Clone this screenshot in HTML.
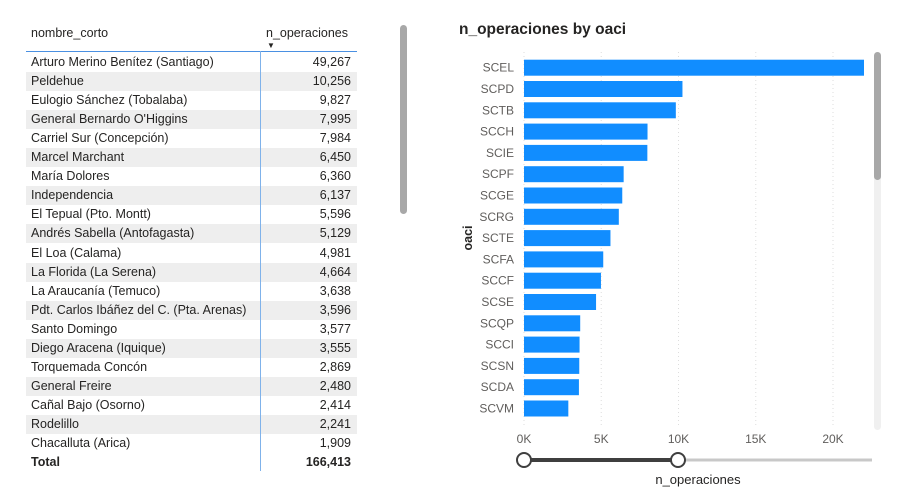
<!DOCTYPE html>
<html><head><meta charset="utf-8"><style>
body{margin:0;width:909px;height:492px;background:#fff;font-family:"Liberation Sans",sans-serif;overflow:hidden;position:relative}
.t{position:absolute;font-size:12.5px;color:#252423;white-space:nowrap}
</style></head><body>
<div id="tbl"></div>
<div style="position:absolute;left:400px;top:25px;width:7px;height:189px;background:#a8a8a8;border-radius:4px"></div>
<div class="t" style="left:459px;top:21px;font-size:15.5px;font-weight:bold;color:#252423">n_operaciones by oaci</div>
<svg id="ch" width="909" height="492" style="position:absolute;left:0;top:0"></svg>
<script>
const names=["Arturo Merino Benítez (Santiago)","Peldehue","Eulogio Sánchez (Tobalaba)","General Bernardo O'Higgins","Carriel Sur (Concepción)","Marcel Marchant","María Dolores","Independencia","El Tepual (Pto. Montt)","Andrés Sabella (Antofagasta)","El Loa (Calama)","La Florida (La Serena)","La Araucanía (Temuco)","Pdt. Carlos Ibáñez del C. (Pta. Arenas)","Santo Domingo","Diego Aracena (Iquique)","Torquemada Concón","General Freire","Cañal Bajo (Osorno)","Rodelillo","Chacalluta (Arica)"];
const tableVals=[49267,10256,9827,7995,7984,6450,6360,6137,5596,5129,4981,4664,3638,3596,3577,3555,2869,2480,2414,2241,1909];
const totalVal=166413;
const codes=["SCEL","SCPD","SCTB","SCCH","SCIE","SCPF","SCGE","SCRG","SCTE","SCFA","SCCF","SCSE","SCQP","SCCI","SCSN","SCDA","SCVM"];
const barVals=[49267,10256,9827,7995,7984,6450,6360,6137,5596,5129,4981,4664,3638,3596,3577,3555,2869];
const ticks=[0,5000,10000,15000,20000];
const tickLabels=["0K","5K","10K","15K","20K"];

const tbl=document.getElementById('tbl');
function div(st,txt,name){const d=document.createElement('div');d.className='t';d.style.cssText=st;if(txt!=null)d.textContent=txt;


tbl.appendChild(d);return d;}
div('left:31px;top:26px','nombre_corto','header-nombre-corto');
div('left:266px;top:26px','n_operaciones','header-n-operaciones');
div('left:267px;top:41px;font-size:8px','▼','sort-arrow');
div('left:26px;top:51px;width:331px;height:1px;background:#4a90e2','', 'header-line');
const fmt=v=>v.toLocaleString('en-US');
names.forEach((n,i)=>{const y=53+i*19.05;
 if(i%2==1)div(`left:26px;top:${y}px;width:331px;height:19px;background:#eeeeee`,'','row-band');
 div(`left:31px;top:${y+2}px`,n,'row-name');
 div(`left:261px;top:${y+2}px;width:90px;text-align:right`,fmt(tableVals[i]),'row-value');
});
div('left:31px;top:455px;font-weight:bold','Total','total-label');
div('left:261px;top:455px;width:90px;text-align:right;font-weight:bold',fmt(totalVal),'total-value');
div('left:260px;top:51px;width:1px;height:420px;background:#7fb2ea','','column-divider');

const svg=document.getElementById('ch'),NS='http://www.w3.org/2000/svg';
function el(tag,attrs,name,txt){const e=document.createElementNS(NS,tag);for(const k in attrs)e.setAttribute(k,attrs[k]);


if(txt!=null)e.textContent=txt;svg.appendChild(e);return e;}
const x0=524,pxPer=309/20000,xr=864;
const X=v=>Math.min(x0+v*pxPer,xr);
const Y=i=>67.7+i*21.3;
ticks.forEach((t,i)=>{el('line',{x1:X(t),x2:X(t),y1:52,y2:425,stroke:'#ddd','stroke-dasharray':'1,3'},'gridline');
 el('text',{x:X(t),y:443,'text-anchor':'middle','font-size':12,fill:'#605e5c','font-family':'Liberation Sans'},'x-tick-label',tickLabels[i]);});
codes.forEach((c,i)=>{el('rect',{x:x0,y:Y(i)-8,width:X(barVals[i])-x0,height:16,fill:'#118dff'},'bar-'+c.toLowerCase());
 el('text',{x:514,y:Y(i)+4,'text-anchor':'end','font-size':12,fill:'#605e5c','font-family':'Liberation Sans'},'y-tick-label',c);});
el('text',{x:0,y:0,transform:'translate(472,238) rotate(-90)','text-anchor':'middle','font-size':12.5,'font-weight':'bold',fill:'#252423','font-family':'Liberation Sans'},'y-axis-title','oaci');
el('text',{x:698,y:484,'text-anchor':'middle','font-size':13,fill:'#252423','font-family':'Liberation Sans'},'x-axis-title','n_operaciones');
el('rect',{x:874,y:52,width:7,height:378,rx:3.5,fill:'#f0f0f0'},'chart-scroll-track');
el('rect',{x:874,y:52,width:7,height:128,rx:3.5,fill:'#a8a8a8'},'chart-scroll-thumb');
el('line',{x1:678,x2:872,y1:460,y2:460,stroke:'#c8c8c8','stroke-width':3},'slider-track');
el('line',{x1:524,x2:678,y1:460,y2:460,stroke:'#3f3f3f','stroke-width':4},'slider-range');
el('circle',{cx:524,cy:460,r:7,fill:'#fff',stroke:'#3f3f3f','stroke-width':2},'slider-min-handle');
el('circle',{cx:678,cy:460,r:7,fill:'#fff',stroke:'#3f3f3f','stroke-width':2},'slider-max-handle');
</script>
</body></html>
